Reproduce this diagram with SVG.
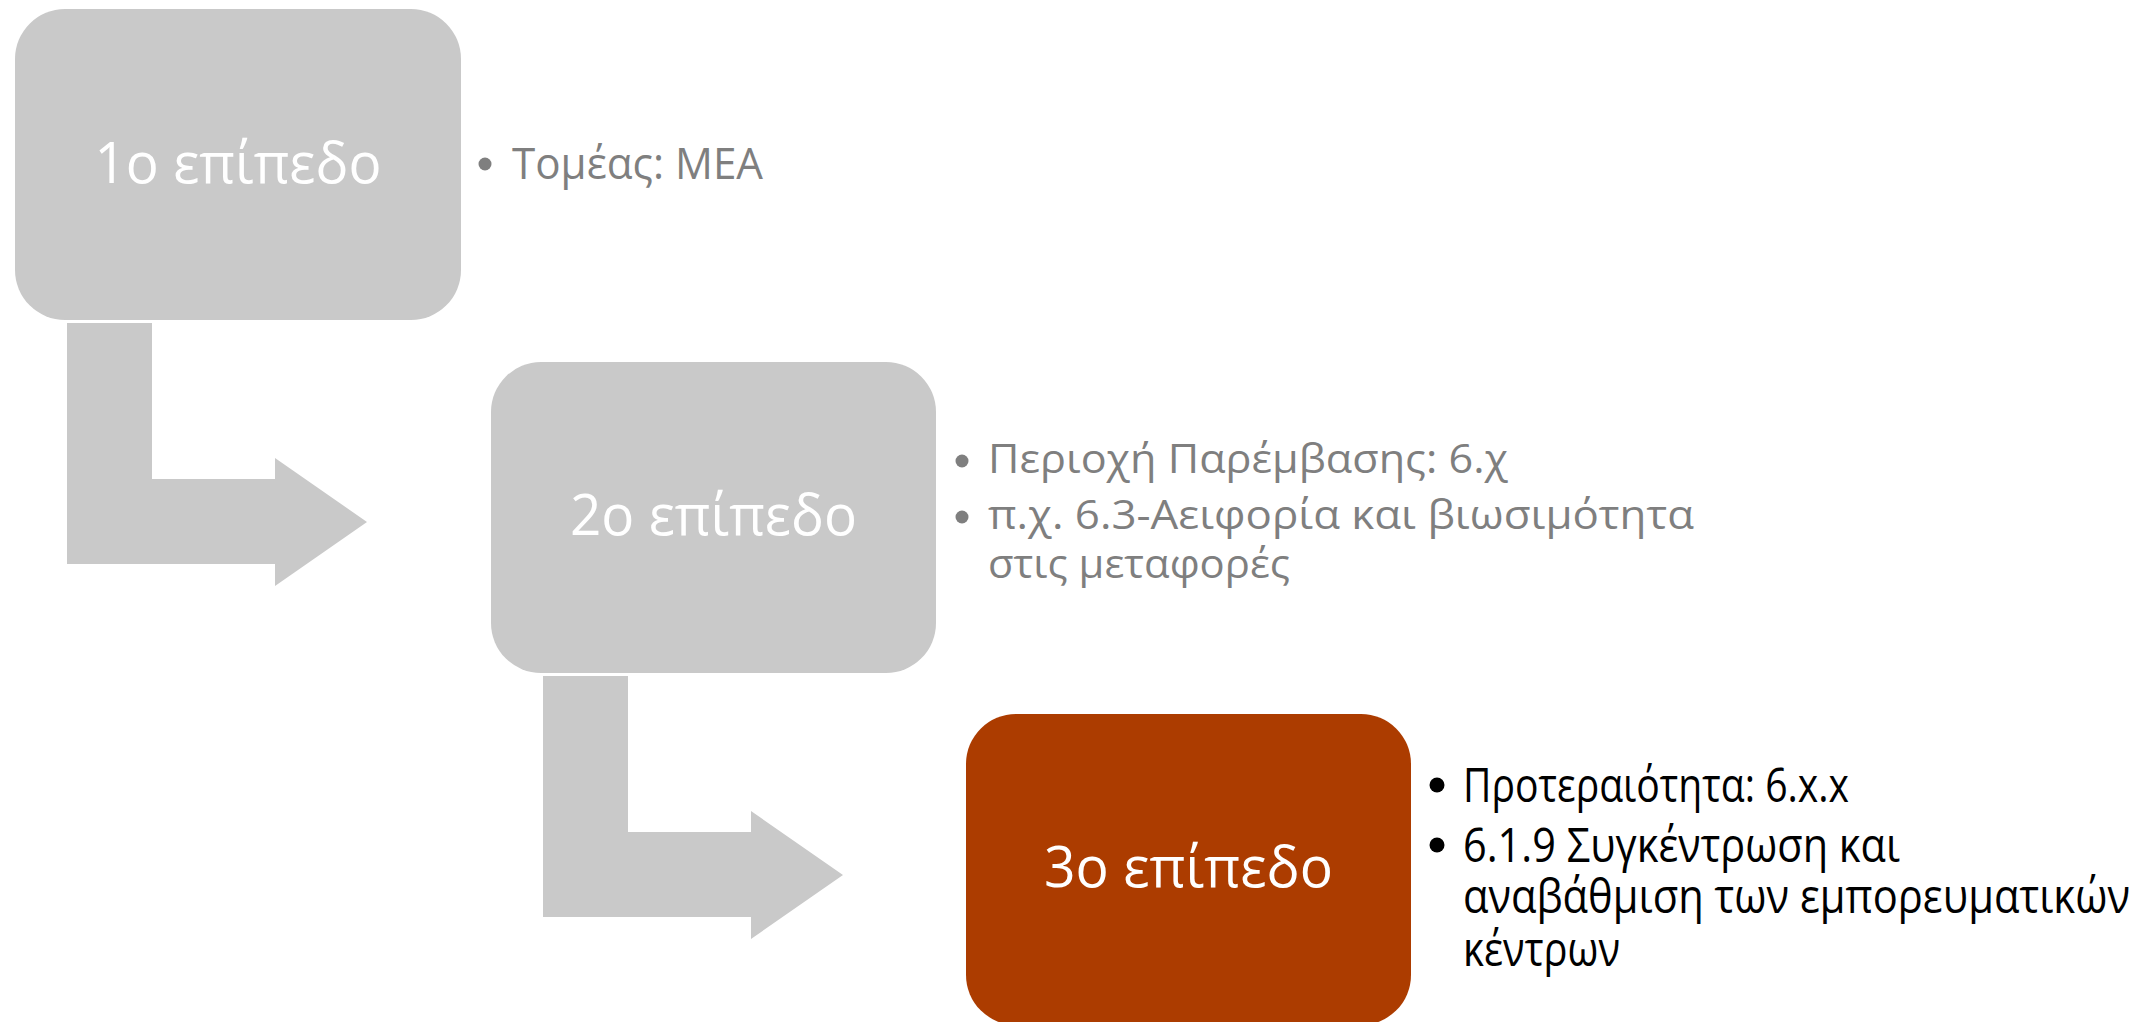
<svg xmlns="http://www.w3.org/2000/svg" width="2156" height="1022" viewBox="0 0 2156 1022">
<style>
.box{fill:#c9c9c9}
.box3{fill:#ac3c00}
.arrow{fill:#c9c9c9}
.title{font-family:"Open Sans","Noto Sans","DejaVu Sans",sans-serif;font-size:56px;fill:#ffffff;text-anchor:middle}
.g{font-family:"Open Sans","Noto Sans","DejaVu Sans",sans-serif;fill:#7f7f7f}
.k{font-family:"Open Sans","Noto Sans","DejaVu Sans",sans-serif;fill:#000000}
.dotg{fill:#7f7f7f}
.dotk{fill:#000000}
</style>
<rect width="2156" height="1022" fill="#ffffff"/>
<g id="connectors">
<polygon class="arrow" points="67,323 152,323 152,479 275,479 275,458 367,522 275,586 275,564 67,564"/>
<polygon class="arrow" points="543,676 628,676 628,832 751,832 751,811 843,875 751,939 751,917 543,917"/>
</g>
<g id="node1">
<rect class="box" x="15" y="9" width="446" height="311" rx="50" ry="50"/>
<text class="title" x="238" y="183" textLength="287" lengthAdjust="spacingAndGlyphs">1ο επίπεδο</text>
</g>
<g id="node1-text">
<circle class="dotg" cx="485" cy="164" r="6.5"/>
<text class="g" x="512" y="179" font-size="43" textLength="251" lengthAdjust="spacingAndGlyphs">Τομέας: ΜΕΑ</text>
</g>
<g id="node2">
<rect class="box" x="491" y="362" width="445" height="311" rx="50" ry="50"/>
<text class="title" x="713.5" y="535" textLength="287" lengthAdjust="spacingAndGlyphs">2ο επίπεδο</text>
</g>
<g id="node2-text">
<circle class="dotg" cx="962" cy="461" r="6.5"/>
<text class="g" x="988" y="473" font-size="41" textLength="520" lengthAdjust="spacingAndGlyphs">Περιοχή Παρέμβασης: 6.χ</text>
<circle class="dotg" cx="962" cy="517" r="6.5"/>
<text class="g" x="988" y="529" font-size="41" textLength="706" lengthAdjust="spacingAndGlyphs">π.χ. 6.3-Αειφορία και βιωσιμότητα</text>
<text class="g" x="988" y="578" font-size="41" textLength="302" lengthAdjust="spacingAndGlyphs">στις μεταφορές</text>
</g>
<g id="node3">
<rect class="box3" x="966" y="714" width="445" height="311" rx="50" ry="50"/>
<text class="title" x="1188.5" y="887" textLength="289" lengthAdjust="spacingAndGlyphs">3ο επίπεδο</text>
</g>
<g id="node3-text">
<circle class="dotk" cx="1437" cy="785" r="7.5"/>
<text class="k" x="1463" y="802" font-size="47" textLength="386" lengthAdjust="spacingAndGlyphs">Προτεραιότητα: 6.x.x</text>
<circle class="dotk" cx="1437" cy="845" r="7.5"/>
<text class="k" x="1463" y="862" font-size="47" textLength="437" lengthAdjust="spacingAndGlyphs">6.1.9 Συγκέντρωση και</text>
<text class="k" x="1463" y="913" font-size="47" textLength="667" lengthAdjust="spacingAndGlyphs">αναβάθμιση των εμπορευματικών</text>
<text class="k" x="1463" y="966" font-size="47" textLength="157" lengthAdjust="spacingAndGlyphs">κέντρων</text>
</g>
</svg>
